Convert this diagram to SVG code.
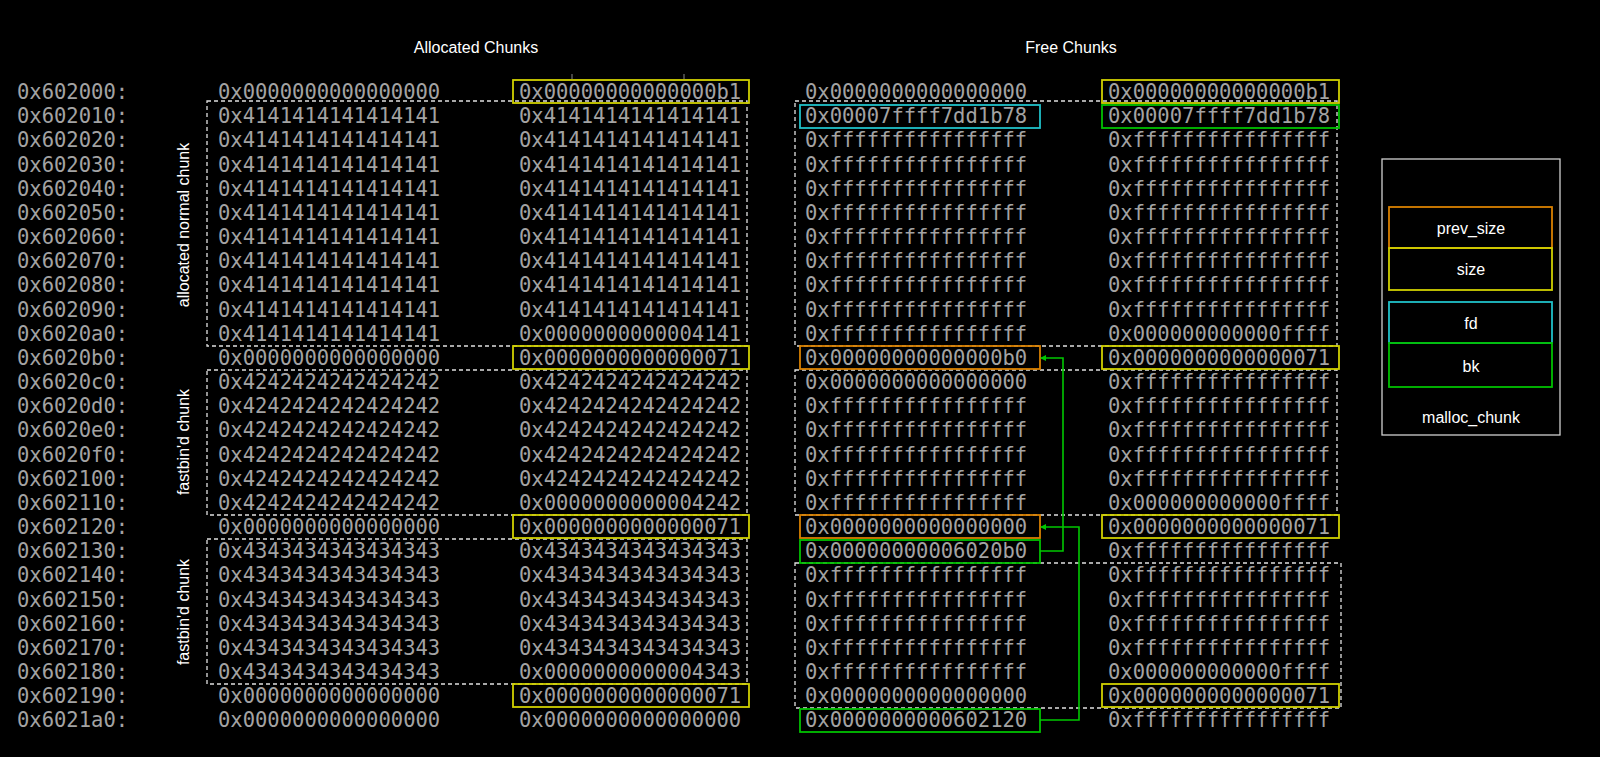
<svg xmlns="http://www.w3.org/2000/svg" width="1600" height="757" viewBox="0 0 1600 757">
<defs>
<style>
.m{font-family:"DejaVu Sans Mono",monospace;font-size:20.5px;fill:#a3a3a3;dominant-baseline:central}
.t{font-family:"Liberation Sans",Arial,sans-serif;font-size:16px;fill:#ffffff;text-anchor:middle;dominant-baseline:central}
.d{fill:none;stroke:#e0e0e0;stroke-width:1.3;stroke-dasharray:4,3}
.y{fill:none;stroke:#d0d000;stroke-width:1.8}
.o{fill:none;stroke:#d98000;stroke-width:1.8}
.c{fill:none;stroke:#20c0c8;stroke-width:1.8}
.g{fill:none;stroke:#00c000;stroke-width:1.8}
.k{fill:none;stroke:#00c800;stroke-width:1.6}
</style>
<marker id="ah" markerWidth="6" markerHeight="6" refX="5" refY="3" orient="auto" markerUnits="userSpaceOnUse"><path d="M0,0 L6,3 L0,6 z" fill="#00c800"/></marker>
</defs>
<rect width="1600" height="757" fill="#000"/>
<g id="titles">
<text class="t" x="476" y="47">Allocated Chunks</text>
<text class="t" x="1071" y="47">Free Chunks</text>
<text class="t" transform="translate(183,225) rotate(-90)">allocated normal chunk</text>
<text class="t" transform="translate(183,442) rotate(-90)">fastbin'd chunk</text>
<text class="t" transform="translate(183,612) rotate(-90)">fastbin'd chunk</text>
<path d="M572,74 V79 M684,74 V79" stroke="#888" stroke-width="1"/>
</g>
<g id="addresses">
<text class="m" x="17" y="92">0x602000:</text>
<text class="m" x="17" y="116.2">0x602010:</text>
<text class="m" x="17" y="140.3">0x602020:</text>
<text class="m" x="17" y="164.5">0x602030:</text>
<text class="m" x="17" y="188.7">0x602040:</text>
<text class="m" x="17" y="212.9">0x602050:</text>
<text class="m" x="17" y="237">0x602060:</text>
<text class="m" x="17" y="261.2">0x602070:</text>
<text class="m" x="17" y="285.4">0x602080:</text>
<text class="m" x="17" y="309.5">0x602090:</text>
<text class="m" x="17" y="333.7">0x6020a0:</text>
<text class="m" x="17" y="357.9">0x6020b0:</text>
<text class="m" x="17" y="382">0x6020c0:</text>
<text class="m" x="17" y="406.2">0x6020d0:</text>
<text class="m" x="17" y="430.4">0x6020e0:</text>
<text class="m" x="17" y="454.6">0x6020f0:</text>
<text class="m" x="17" y="478.7">0x602100:</text>
<text class="m" x="17" y="502.9">0x602110:</text>
<text class="m" x="17" y="527.1">0x602120:</text>
<text class="m" x="17" y="551.2">0x602130:</text>
<text class="m" x="17" y="575.4">0x602140:</text>
<text class="m" x="17" y="599.6">0x602150:</text>
<text class="m" x="17" y="623.7">0x602160:</text>
<text class="m" x="17" y="647.9">0x602170:</text>
<text class="m" x="17" y="672.1">0x602180:</text>
<text class="m" x="17" y="696.3">0x602190:</text>
<text class="m" x="17" y="720.4">0x6021a0:</text>
</g>
<g id="allocated-col1">
<text class="m" x="218" y="92">0x0000000000000000</text>
<text class="m" x="218" y="116.2">0x4141414141414141</text>
<text class="m" x="218" y="140.3">0x4141414141414141</text>
<text class="m" x="218" y="164.5">0x4141414141414141</text>
<text class="m" x="218" y="188.7">0x4141414141414141</text>
<text class="m" x="218" y="212.9">0x4141414141414141</text>
<text class="m" x="218" y="237">0x4141414141414141</text>
<text class="m" x="218" y="261.2">0x4141414141414141</text>
<text class="m" x="218" y="285.4">0x4141414141414141</text>
<text class="m" x="218" y="309.5">0x4141414141414141</text>
<text class="m" x="218" y="333.7">0x4141414141414141</text>
<text class="m" x="218" y="357.9">0x0000000000000000</text>
<text class="m" x="218" y="382">0x4242424242424242</text>
<text class="m" x="218" y="406.2">0x4242424242424242</text>
<text class="m" x="218" y="430.4">0x4242424242424242</text>
<text class="m" x="218" y="454.6">0x4242424242424242</text>
<text class="m" x="218" y="478.7">0x4242424242424242</text>
<text class="m" x="218" y="502.9">0x4242424242424242</text>
<text class="m" x="218" y="527.1">0x0000000000000000</text>
<text class="m" x="218" y="551.2">0x4343434343434343</text>
<text class="m" x="218" y="575.4">0x4343434343434343</text>
<text class="m" x="218" y="599.6">0x4343434343434343</text>
<text class="m" x="218" y="623.7">0x4343434343434343</text>
<text class="m" x="218" y="647.9">0x4343434343434343</text>
<text class="m" x="218" y="672.1">0x4343434343434343</text>
<text class="m" x="218" y="696.3">0x0000000000000000</text>
<text class="m" x="218" y="720.4">0x0000000000000000</text>
</g>
<g id="allocated-col2">
<text class="m" x="519" y="92">0x00000000000000b1</text>
<text class="m" x="519" y="116.2">0x4141414141414141</text>
<text class="m" x="519" y="140.3">0x4141414141414141</text>
<text class="m" x="519" y="164.5">0x4141414141414141</text>
<text class="m" x="519" y="188.7">0x4141414141414141</text>
<text class="m" x="519" y="212.9">0x4141414141414141</text>
<text class="m" x="519" y="237">0x4141414141414141</text>
<text class="m" x="519" y="261.2">0x4141414141414141</text>
<text class="m" x="519" y="285.4">0x4141414141414141</text>
<text class="m" x="519" y="309.5">0x4141414141414141</text>
<text class="m" x="519" y="333.7">0x0000000000004141</text>
<text class="m" x="519" y="357.9">0x0000000000000071</text>
<text class="m" x="519" y="382">0x4242424242424242</text>
<text class="m" x="519" y="406.2">0x4242424242424242</text>
<text class="m" x="519" y="430.4">0x4242424242424242</text>
<text class="m" x="519" y="454.6">0x4242424242424242</text>
<text class="m" x="519" y="478.7">0x4242424242424242</text>
<text class="m" x="519" y="502.9">0x0000000000004242</text>
<text class="m" x="519" y="527.1">0x0000000000000071</text>
<text class="m" x="519" y="551.2">0x4343434343434343</text>
<text class="m" x="519" y="575.4">0x4343434343434343</text>
<text class="m" x="519" y="599.6">0x4343434343434343</text>
<text class="m" x="519" y="623.7">0x4343434343434343</text>
<text class="m" x="519" y="647.9">0x4343434343434343</text>
<text class="m" x="519" y="672.1">0x0000000000004343</text>
<text class="m" x="519" y="696.3">0x0000000000000071</text>
<text class="m" x="519" y="720.4">0x0000000000000000</text>
</g>
<g id="free-col1">
<text class="m" x="805" y="92">0x0000000000000000</text>
<text class="m" x="805" y="116.2">0x00007ffff7dd1b78</text>
<text class="m" x="805" y="140.3">0xffffffffffffffff</text>
<text class="m" x="805" y="164.5">0xffffffffffffffff</text>
<text class="m" x="805" y="188.7">0xffffffffffffffff</text>
<text class="m" x="805" y="212.9">0xffffffffffffffff</text>
<text class="m" x="805" y="237">0xffffffffffffffff</text>
<text class="m" x="805" y="261.2">0xffffffffffffffff</text>
<text class="m" x="805" y="285.4">0xffffffffffffffff</text>
<text class="m" x="805" y="309.5">0xffffffffffffffff</text>
<text class="m" x="805" y="333.7">0xffffffffffffffff</text>
<text class="m" x="805" y="357.9">0x00000000000000b0</text>
<text class="m" x="805" y="382">0x0000000000000000</text>
<text class="m" x="805" y="406.2">0xffffffffffffffff</text>
<text class="m" x="805" y="430.4">0xffffffffffffffff</text>
<text class="m" x="805" y="454.6">0xffffffffffffffff</text>
<text class="m" x="805" y="478.7">0xffffffffffffffff</text>
<text class="m" x="805" y="502.9">0xffffffffffffffff</text>
<text class="m" x="805" y="527.1">0x0000000000000000</text>
<text class="m" x="805" y="551.2">0x00000000006020b0</text>
<text class="m" x="805" y="575.4">0xffffffffffffffff</text>
<text class="m" x="805" y="599.6">0xffffffffffffffff</text>
<text class="m" x="805" y="623.7">0xffffffffffffffff</text>
<text class="m" x="805" y="647.9">0xffffffffffffffff</text>
<text class="m" x="805" y="672.1">0xffffffffffffffff</text>
<text class="m" x="805" y="696.3">0x0000000000000000</text>
<text class="m" x="805" y="720.4">0x0000000000602120</text>
</g>
<g id="free-col2">
<text class="m" x="1108" y="92">0x00000000000000b1</text>
<text class="m" x="1108" y="116.2">0x00007ffff7dd1b78</text>
<text class="m" x="1108" y="140.3">0xffffffffffffffff</text>
<text class="m" x="1108" y="164.5">0xffffffffffffffff</text>
<text class="m" x="1108" y="188.7">0xffffffffffffffff</text>
<text class="m" x="1108" y="212.9">0xffffffffffffffff</text>
<text class="m" x="1108" y="237">0xffffffffffffffff</text>
<text class="m" x="1108" y="261.2">0xffffffffffffffff</text>
<text class="m" x="1108" y="285.4">0xffffffffffffffff</text>
<text class="m" x="1108" y="309.5">0xffffffffffffffff</text>
<text class="m" x="1108" y="333.7">0x000000000000ffff</text>
<text class="m" x="1108" y="357.9">0x0000000000000071</text>
<text class="m" x="1108" y="382">0xffffffffffffffff</text>
<text class="m" x="1108" y="406.2">0xffffffffffffffff</text>
<text class="m" x="1108" y="430.4">0xffffffffffffffff</text>
<text class="m" x="1108" y="454.6">0xffffffffffffffff</text>
<text class="m" x="1108" y="478.7">0xffffffffffffffff</text>
<text class="m" x="1108" y="502.9">0x000000000000ffff</text>
<text class="m" x="1108" y="527.1">0x0000000000000071</text>
<text class="m" x="1108" y="551.2">0xffffffffffffffff</text>
<text class="m" x="1108" y="575.4">0xffffffffffffffff</text>
<text class="m" x="1108" y="599.6">0xffffffffffffffff</text>
<text class="m" x="1108" y="623.7">0xffffffffffffffff</text>
<text class="m" x="1108" y="647.9">0xffffffffffffffff</text>
<text class="m" x="1108" y="672.1">0x000000000000ffff</text>
<text class="m" x="1108" y="696.3">0x0000000000000071</text>
<text class="m" x="1108" y="720.4">0xffffffffffffffff</text>
</g>
<g id="chunk-outlines">
<rect class="d" x="207" y="101" width="540" height="245"/>
<rect class="d" x="207" y="370" width="540" height="145"/>
<rect class="d" x="207" y="539" width="540" height="145"/>
<rect class="d" x="795" y="101" width="542" height="245"/>
<rect class="d" x="795" y="370" width="542" height="145"/>
<rect class="d" x="795" y="563" width="546" height="145"/>
</g>
<g id="field-boxes">
<rect class="y" x="513" y="80" width="236" height="23"/>
<rect class="y" x="513" y="346" width="236" height="23"/>
<rect class="y" x="513" y="515" width="236" height="23"/>
<rect class="y" x="513" y="684" width="236" height="23"/>
<rect class="c" x="800" y="105" width="240" height="23"/>
<rect class="o" x="800" y="346" width="240" height="23"/>
<rect class="o" x="800" y="515" width="240" height="23"/>
<rect class="g" x="800" y="540" width="240" height="23"/>
<rect class="g" x="800" y="709" width="240" height="23"/>
<rect class="y" x="1102" y="80" width="237" height="23"/>
<rect class="g" x="1102" y="105" width="237" height="23"/>
<rect class="y" x="1102" y="346" width="237" height="23"/>
<rect class="y" x="1102" y="515" width="237" height="23"/>
<rect class="y" x="1102" y="684" width="237" height="23"/>
</g>
<g id="connectors">
<path class="k" d="M1040,551 H1063 V358 H1041" marker-end="url(#ah)"/>
<path class="k" d="M1040,720 H1079 V527 H1041" marker-end="url(#ah)"/>
</g>
<g id="legend">
<rect x="1382" y="159" width="178" height="276" fill="none" stroke="#d0d0d0" stroke-width="1.3"/>
<rect class="o" x="1389" y="207" width="163" height="41"/>
<rect class="y" x="1389" y="248" width="163" height="42"/>
<rect class="c" x="1389" y="302" width="163" height="41"/>
<rect class="g" x="1389" y="343" width="163" height="44"/>
<text class="t" x="1471" y="228">prev_size</text>
<text class="t" x="1471" y="269">size</text>
<text class="t" x="1471" y="323">fd</text>
<text class="t" x="1471" y="366">bk</text>
<text class="t" x="1471" y="417">malloc_chunk</text>
</g>
</svg>
